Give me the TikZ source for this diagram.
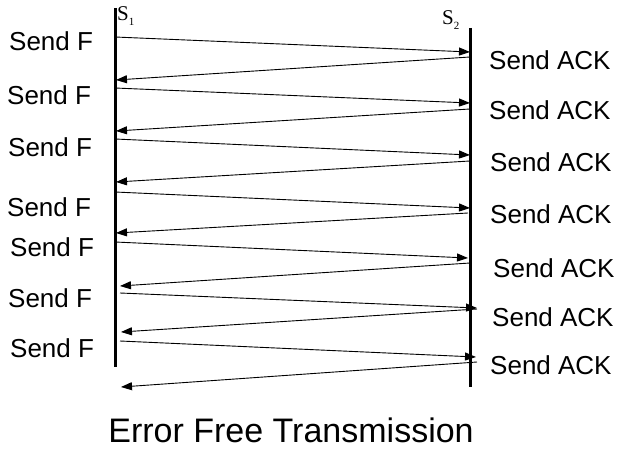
\documentclass[tikz,border=0pt]{standalone}
\usepackage{fontspec}
\setmainfont{Liberation Sans}
\newfontfamily\serifont{Liberation Serif}
\usetikzlibrary{arrows.meta}
\begin{document}
\begin{tikzpicture}[x=1pt,y=-1pt,
  msg/.style={line width=0.9pt,-{Triangle[length=11pt,width=8pt]}},
  life/.style={line width=3pt},
  lbl/.style={font=\fontsize{26}{26}\selectfont, inner sep=0pt, anchor=west},
  sname/.style={font=\serifont\fontsize{21}{21}\selectfont, inner sep=0pt, anchor=west}]
\useasboundingbox (0,0) rectangle (628,452);
% lifelines
\coordinate (s1top) at (115,8);
\coordinate (s1bot) at (115,367);
\coordinate (s2top) at (470,28);
\coordinate (s2bot) at (470,387);
\draw[life] (s1top) -- (s1bot);
\draw[life] (s2top) -- (s2bot);
\node[sname] (S1) at (117,16) {S\raisebox{-5pt}{\fontsize{11}{11}\selectfont 1}};
\node[sname] (S2) at (442,20) {S\raisebox{-5pt}{\fontsize{11}{11}\selectfont 2}};
% endpoints
\coordinate (f1a) at (115,37);  \coordinate (f1b) at (470,52);
\coordinate (b1a) at (470,57);  \coordinate (b1b) at (116,80);
\coordinate (f2a) at (115,88);  \coordinate (f2b) at (470,103);
\coordinate (b2a) at (470,109); \coordinate (b2b) at (116,131);
\coordinate (f3a) at (115,139); \coordinate (f3b) at (470,155);
\coordinate (b3a) at (470,161); \coordinate (b3b) at (116,182);
\coordinate (f4a) at (115,192); \coordinate (f4b) at (470,208);
\coordinate (b4a) at (468,213); \coordinate (b4b) at (116,233);
\coordinate (f5a) at (115,242); \coordinate (f5b) at (468,258);
\coordinate (b5a) at (470,263); \coordinate (b5b) at (120,286);
\coordinate (f6a) at (120,293); \coordinate (f6b) at (477,308);
\coordinate (b6a) at (477,309); \coordinate (b6b) at (121,332);
\coordinate (f7a) at (120,341); \coordinate (f7b) at (476,357);
\coordinate (b7a) at (477,362); \coordinate (b7b) at (121,387);
\foreach \i in {1,...,7}{
  \draw[msg] (f\i a) -- (f\i b);
  \draw[msg] (b\i a) -- (b\i b);
}
% labels
\node[lbl] (sf1) at (9,41) {Send F};
\node[lbl] (sf2) at (7,95) {Send F};
\node[lbl] (sf3) at (8,147) {Send F};
\node[lbl] (sf4) at (7,207) {Send F};
\node[lbl] (sf5) at (10,247) {Send F};
\node[lbl] (sf6) at (8,298) {Send F};
\node[lbl] (sf7) at (10,348) {Send F};
\node[lbl] (sa1) at (489,60) {Send ACK};
\node[lbl] (sa2) at (489,110) {Send ACK};
\node[lbl] (sa3) at (490,162) {Send ACK};
\node[lbl] (sa4) at (490,214) {Send ACK};
\node[lbl] (sa5) at (493,268) {Send ACK};
\node[lbl] (sa6) at (492,317) {Send ACK};
\node[lbl] (sa7) at (490,365) {Send ACK};
\node[font=\fontsize{34}{34}\selectfont, inner sep=0pt] (title) at (291,430) {Error Free Transmission};
\end{tikzpicture}
\end{document}
